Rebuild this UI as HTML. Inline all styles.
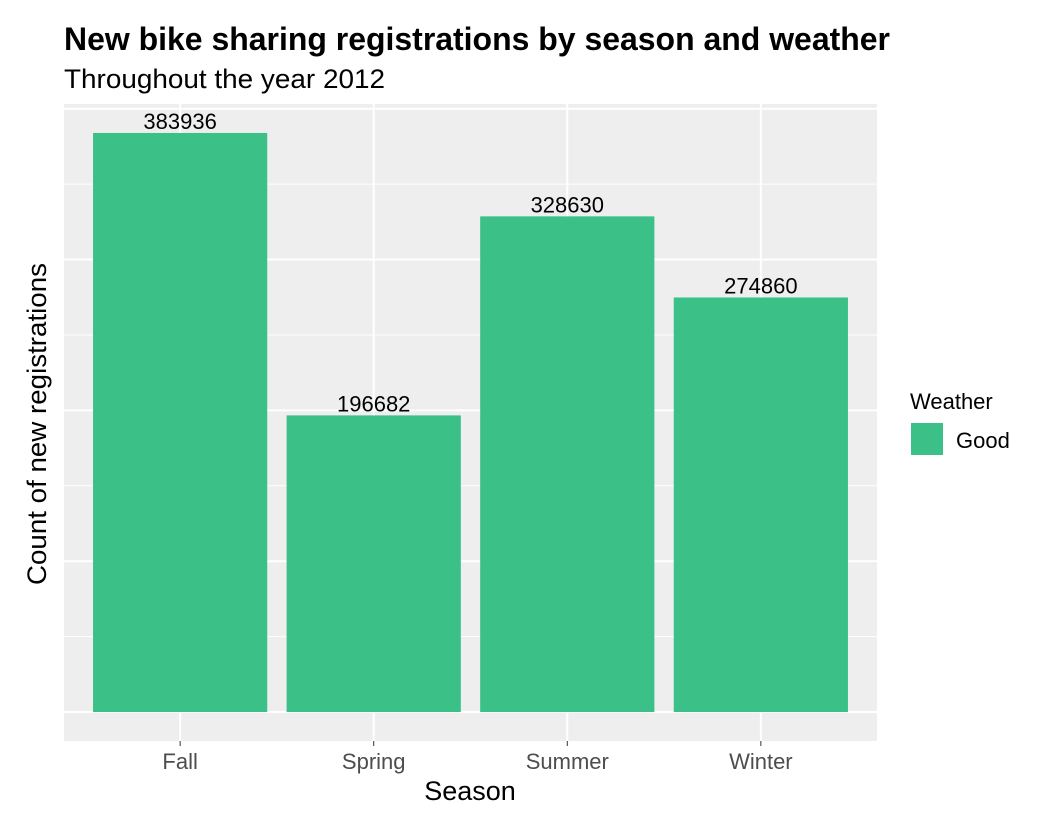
<!DOCTYPE html>
<html><head><meta charset="utf-8"><style>
body{margin:0;background:#fff;}
svg{display:block;font-family:"Liberation Sans",Arial,sans-serif;}
</style></head><body>
<svg id="chart" width="1044" height="820" viewBox="0 0 1044 820">
<rect width="1044" height="820" fill="#fff"/>
<text x="64" y="50" font-size="32" font-weight="bold" fill="#000" textLength="826" lengthAdjust="spacingAndGlyphs">New bike sharing registrations by season and weather</text>
<text x="64" y="88" font-size="27" fill="#000" textLength="321" lengthAdjust="spacingAndGlyphs">Throughout the year 2012</text>
<rect x="64" y="104" width="813" height="637" fill="#eeeeee"/>
<g id="grid"></g>
<g id="bars"></g>
<g id="xaxis"></g>
<text x="470" y="800" font-size="27" text-anchor="middle" fill="#000">Season</text>
<text transform="translate(46,424) rotate(-90)" font-size="27" text-anchor="middle" fill="#000" textLength="322" lengthAdjust="spacingAndGlyphs">Count of new registrations</text>
<g>
<text x="910" y="409" font-size="22" fill="#000">Weather</text>
<rect x="911" y="423" width="32" height="32" fill="#3bc088"/>
<text x="956" y="448" font-size="22" fill="#000">Good</text>
</g>
</svg>
<script>
const categories=["Fall","Spring","Summer","Winter"];
const values=[383936,196682,328630,274860];
const gridMajor=[0,100000,200000,300000,400000];
const gridMinor=[50000,150000,250000,350000];
const NS="http://www.w3.org/2000/svg";
const px0=64,px1=877,py0=741,py1=104;
const maxV=Math.max(...values);
const yMin=-0.05*maxV,yMax=1.05*maxV;
function y(v){return py0-(v-yMin)/(yMax-yMin)*(py0-py1);}
const band=(px1-px0)/(categories.length+0.2);
function xc(i){return px0+band*0.6+band*i;}
function mk(tag,attrs,parent){const e=document.createElementNS(NS,tag);for(const k in attrs)e.setAttribute(k,attrs[k]);parent.appendChild(e);return e;}
const grid=document.getElementById('grid');
gridMinor.forEach(v=>{if(y(v)<py1)return;const l=mk('line',{x1:px0,x2:px1,y1:y(v),y2:y(v),stroke:'#fff','stroke-width':1},grid);

});
gridMajor.forEach(v=>{if(y(v)<py1)return;const l=mk('line',{x1:px0,x2:px1,y1:y(v),y2:y(v),stroke:'#fff','stroke-width':2},grid);

});
categories.forEach((c,i)=>{const l=mk('line',{x1:xc(i),x2:xc(i),y1:py1,y2:py0,stroke:'#fff','stroke-width':2},grid);

});
const bars=document.getElementById('bars');
const xa=document.getElementById('xaxis');
categories.forEach((c,i)=>{
const w=band*0.9;
const r=mk('rect',{x:xc(i)-w/2,y:y(values[i]),width:w,height:y(0)-y(values[i]),fill:'#3bc088'},bars);


const t=mk('text',{x:xc(i),y:y(values[i])-4,'font-size':22,'text-anchor':'middle',fill:'#000'},bars);
t.textContent=values[i];


const tk=mk('line',{x1:xc(i),x2:xc(i),y1:py0,y2:py0+5,stroke:'#333','stroke-width':1},xa);


const tl=mk('text',{x:xc(i),y:769,'font-size':22,'text-anchor':'middle',fill:'#4d4d4d'},xa);
tl.textContent=c;


});
</script>
</body></html>
